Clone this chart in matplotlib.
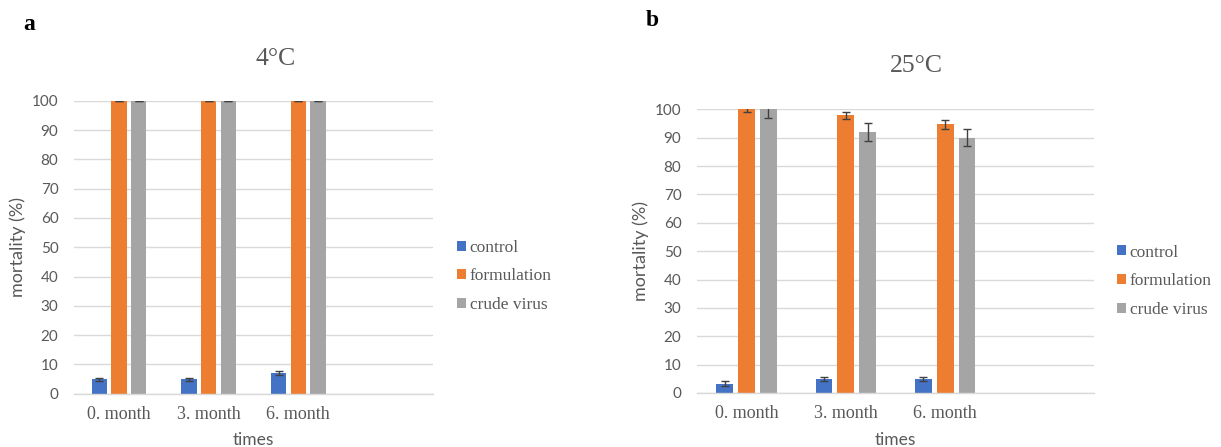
import matplotlib
matplotlib.use("Agg")
import matplotlib.pyplot as plt
import numpy as np

categories = ["0. month", "3. month", "6. month"]
series = ["control", "formulation", "crude virus"]

a_control = [4.9, 4.9, 7.2]
a_control_err = [0.6, 0.6, 0.7]
a_formulation = [100, 100, 100]
a_formulation_err = [0, 0, 0]
a_crude = [100, 100, 100]
a_crude_err = [0, 0, 0]

b_control = [3.2, 5.0, 5.0]
b_control_err = [0.9, 0.6, 0.6]
b_formulation = [100, 97.9, 94.7]
b_formulation_err = [1.0, 1.3, 1.5]
b_crude = [100, 92.1, 90.0]
b_crude_err = [3.0, 3.1, 3.1]

colors = ["#4472C4", "#ED7D31", "#A5A5A5"]
grid_c = "#D9D9D9"
text_c = "#595959"
SANS = ["Lato", "DejaVu Sans"]
SERIF = ["Liberation Serif", "DejaVu Serif"]

fig = plt.figure(figsize=(12.21, 4.47), dpi=100)

W, H = 1221, 447
def rect(l, r, b, t):
    return [l / W, 1 - b / H, (r - l) / W, (b - t) / H]

panels = [
    dict(rect=rect(74, 433, 393.7, 100.7), title="4°C", letter="a",
         letter_xy=(29, 25),
         data=[(a_control, a_control_err), (a_formulation, a_formulation_err), (a_crude, a_crude_err)],
         title_xy=(0.563, 1.115), ylab_x=-0.156, xlab_y=-0.158, leg=(1.067, 0.40)),
    dict(rect=rect(697, 1094, 393, 109.3), title="25°C", letter="b",
         letter_xy=(652, 20),
         data=[(b_control, b_control_err), (b_formulation, b_formulation_err), (b_crude, b_crude_err)],
         title_xy=(0.552, 1.124), ylab_x=-0.141, xlab_y=-0.166, leg=(1.058, 0.394)),
]

width = 0.17
offset = 0.22
x = np.arange(len(categories))

for p in panels:
    ax = fig.add_axes(p["rect"])
    handles = []
    for i, ((vals, errs), c, name) in enumerate(zip(p["data"], colors, series)):
        bars = ax.bar(x + (i - 1) * offset, vals, width, color=c, label=name, zorder=2)
        ax.errorbar(x + (i - 1) * offset, vals, yerr=errs, fmt="none",
                    ecolor="#404040", elinewidth=1, capsize=3.2, capthick=1, zorder=3)
        handles.append(bars)
    ax.set_xlim(-0.5, 3.5)
    ax.set_ylim(0, 100)
    ax.set_yticks(np.arange(0, 101, 10))
    ax.yaxis.grid(True, color=grid_c, linewidth=1, zorder=0)
    ax.set_axisbelow(True)
    for s in ["top", "right", "left"]:
        ax.spines[s].set_visible(False)
    ax.spines["bottom"].set_color(grid_c)
    ax.spines["bottom"].set_linewidth(1)
    ax.set_xticks(x)
    ax.set_xticklabels(categories, family=SERIF, fontsize=13, color=text_c)
    for lab in ax.get_yticklabels():
        lab.set_family(SANS)
        lab.set_fontsize(11)
        lab.set_color(text_c)
    ax.tick_params(axis="both", length=0)
    ax.tick_params(axis="y", pad=11.2)
    ax.tick_params(axis="x", pad=9)
    ax.set_ylabel("mortality (%)", family=SANS, fontsize=13, color=text_c, va="center")
    ax.yaxis.set_label_coords(p["ylab_x"], 0.5)
    ax.set_xlabel("times", family=SANS, fontsize=12.5, color=text_c, va="center")
    ax.xaxis.set_label_coords(0.5, p["xlab_y"])
    ax.set_title(p["title"], family=SERIF, fontsize=18.5, color=text_c,
                 x=p["title_xy"][0], y=p["title_xy"][1], va="center")
    leg = ax.legend(handles=handles, loc="center left", bbox_to_anchor=p["leg"],
                    frameon=False, prop={"family": SERIF, "size": 12.5},
                    handlelength=0.52, handleheight=0.52, handletextpad=0.2,
                    labelspacing=0.73, borderpad=0, borderaxespad=0)
    for t in leg.get_texts():
        t.set_color(text_c)
    fig.text(p["letter_xy"][0] / W, 1 - p["letter_xy"][1] / H, p["letter"],
             family=SERIF, fontsize=17, fontweight="bold", ha="center", va="center")

fig.savefig("out.png", dpi=100)
